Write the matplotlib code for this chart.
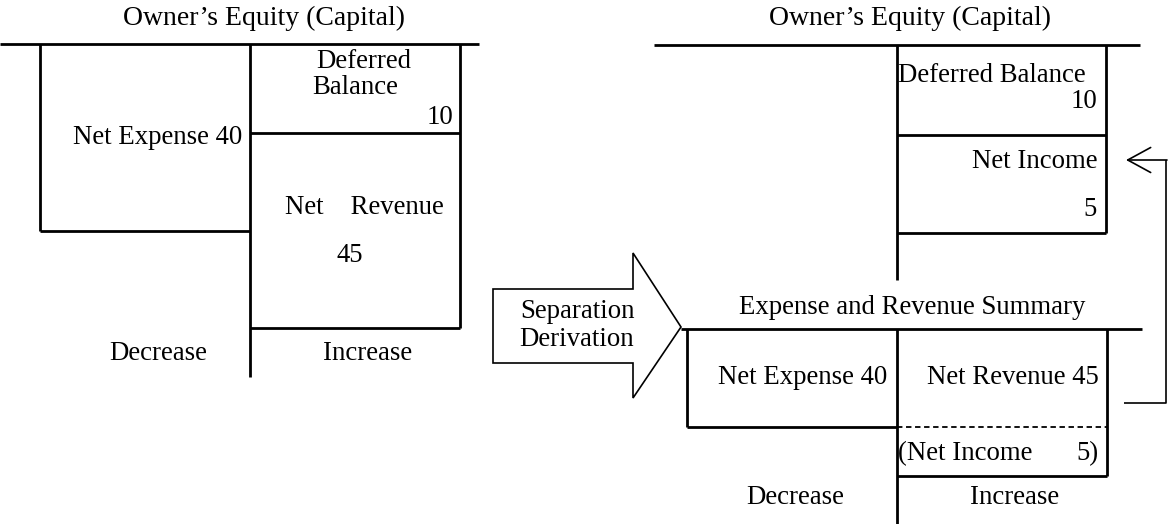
import matplotlib.pyplot as plt
from matplotlib.patches import Polygon

# amounts shown in the T-accounts
deferred_balance = 10
net_expense = 40
net_revenue = 45
net_income = net_revenue - net_expense

titles = ["Owner\u2019s Equity (Capital)", "Expense and Revenue Summary"]
sides = ["Decrease", "Increase"]
arrow_label = ["Separation", "Derivation"]

plt.rcParams["font.family"] = ["Liberation Serif", "DejaVu Serif"]
FS = 19.3

fig = plt.figure(figsize=(11.71, 5.24), dpi=100)
ax = fig.add_axes([0, 0, 1, 1])
ax.set_xlim(0, 1171)
ax.set_ylim(524, 0)
ax.axis("off")

def line(xs, ys, lw=2.0, ls="-"):
    ax.plot(xs, ys, color="black", lw=lw, ls=ls, solid_capstyle="butt")

def txt(x, y, s, ha="center", size=FS):
    ax.text(x, y, s, ha=ha, va="center", fontsize=size)

# ---- left: owner's equity before separation
txt(264, 18, titles[0], size=20)
line([0, 479], [44, 44])
line([40, 40], [44, 231])
line([40, 250], [231, 231])
line([250, 250], [44, 377])
line([460, 460], [44, 328])
line([250, 460], [133, 133])
line([250, 460], [328, 328])
txt(364, 61, "Deferred")
txt(355, 87, "Balance")
txt(453, 117, str(deferred_balance), ha="right")
txt(242, 137, f"Net Expense {net_expense}", ha="right")
txt(364, 208, "Net    Revenue")
txt(350, 256, str(net_revenue))
txt(158, 354, sides[0])
txt(368, 354, sides[1])

# ---- block arrow
arrow = Polygon([(493, 289), (633, 289), (633, 253), (681, 327),
                 (633, 398), (633, 363), (493, 363)],
                closed=True, fill=False, edgecolor="black", lw=1.2)
ax.add_patch(arrow)
txt(577, 311, arrow_label[0])
txt(577, 339, arrow_label[1])

# ---- right top: owner's equity after separation
txt(910, 18, titles[0], size=20)
line([654, 1140], [45, 45])
line([897, 897], [45, 280])
line([1106, 1106], [45, 233])
line([897, 1106], [135, 135])
line([897, 1106], [233, 233])
txt(898, 76, "Deferred Balance", ha="left")
txt(1097, 102, str(deferred_balance), ha="right")
txt(1097, 162, "Net Income", ha="right")
txt(1097, 210, str(net_income), ha="right")

# ---- right bottom: expense and revenue summary
txt(912, 308, titles[1])
line([681, 1142], [329, 329])
line([687, 687], [329, 427])
line([687, 897], [427, 427])
line([897, 897], [329, 524])
line([1107, 1107], [329, 476])
line([897, 1107], [427, 427], lw=1.3, ls=(0, (3, 2)))
line([897, 1107], [476, 476])
txt(887, 377, f"Net Expense {net_expense}", ha="right")
txt(1099, 377, f"Net Revenue {net_revenue}", ha="right")
txt(898, 454, "(Net Income", ha="left")
txt(1098, 454, f"{net_income})", ha="right")
txt(795, 498, sides[0])
txt(1015, 498, sides[1])

# ---- transfer arrow: net income back into capital
line([1124, 1166, 1166], [403, 403, 160], lw=1.2)
ax.annotate("", xy=(1126, 160), xytext=(1167, 160),
            arrowprops=dict(arrowstyle="->,head_length=0.55,head_width=0.3",
                            lw=1.2, color="black",
                            mutation_scale=30, shrinkA=0, shrinkB=0))

fig.savefig("out.png", dpi=100)
